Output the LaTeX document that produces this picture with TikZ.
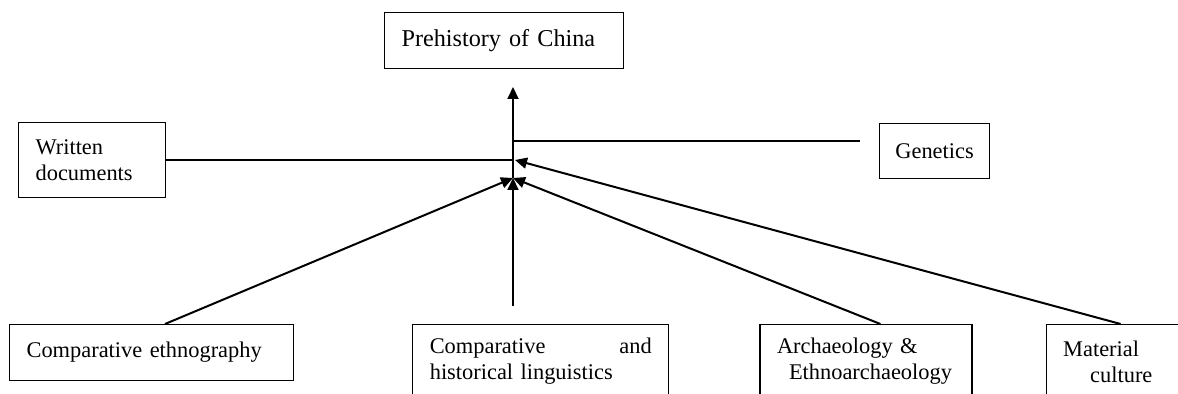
\documentclass[tikz,border=0pt]{standalone}
\usepackage{fontspec}
\setmainfont{Liberation Serif}
\usetikzlibrary{positioning}
\usetikzlibrary{arrows.meta}

\begin{document}
\begin{tikzpicture}[x=0.5pt,y=0.5pt]
  \tikzset{Box/.style={rectangle, draw, line width=0.6pt, inner xsep=8.5pt, inner ysep=0pt, align=left, anchor=north west, font=\fontsize{11.2}{13}\selectfont}};
  \tikzset{Arr/.style={-{Triangle[length=6pt,width=5.5pt]}, line width=1pt}};
  \tikzset{Link/.style={line width=1.4pt}};
  \clip (0,0) rectangle (1178,-394);
  % top and side boxes
  \node[Box, text width=102.5pt, minimum height=28pt, font=\fontsize{12.1}{14}\selectfont] (china) at (384,-12) {Prehistory of China};
  \node[Box, text width=56.5pt, minimum height=37.5pt] (written) at (18,-122) {Written\\documents};
  \node[Box, align=center, inner xsep=0pt, minimum width=55pt, minimum height=27.5pt] (genetics) at (879,-123) {Genetics};
  % bottom row
  \node[Box, text width=125pt, minimum height=28pt] (ethno) at (9,-324) {Comparative ethnography};
  \node[Box, text width=111pt, minimum height=37pt, right=59pt of ethno.north east, anchor=north west] (ling) {Comparative\hfill and\\historical linguistics};
  \node[Box, text width=89pt, minimum height=37pt, right=45pt of ling.north east, anchor=north west] (arch) {Archaeology \&\\\hspace*{6pt}Ethnoarchaeology};
  \node[Box, text width=83pt, minimum height=37pt, right=36.5pt of arch.north east, anchor=north west] (material) {Material\\\hspace*{13.5pt}culture};
  \coordinate (hub) at (513,-178);
  \coordinate (top) at (513,-87);
  \coordinate (hubM) at (515,-160);
  \coordinate (genend) at (860,-141);
  \draw[Arr] (hub) -- (top);
  \draw[Link] (written.east) -- (written.east -| hub);
  \draw[Link] (genend -| hub) -- (genend);
  \draw[Arr] ([xshift=78pt]ethno.north west) -- (hub);
  \draw[Arr] ([yshift=9pt]ling.north -| hub) -- (hub);
  \draw[Arr] ([xshift=60.5pt]arch.north west) -- (hub);
  \draw[Arr] ([xshift=37.5pt]material.north west) -- (hubM);
\end{tikzpicture}
\end{document}
